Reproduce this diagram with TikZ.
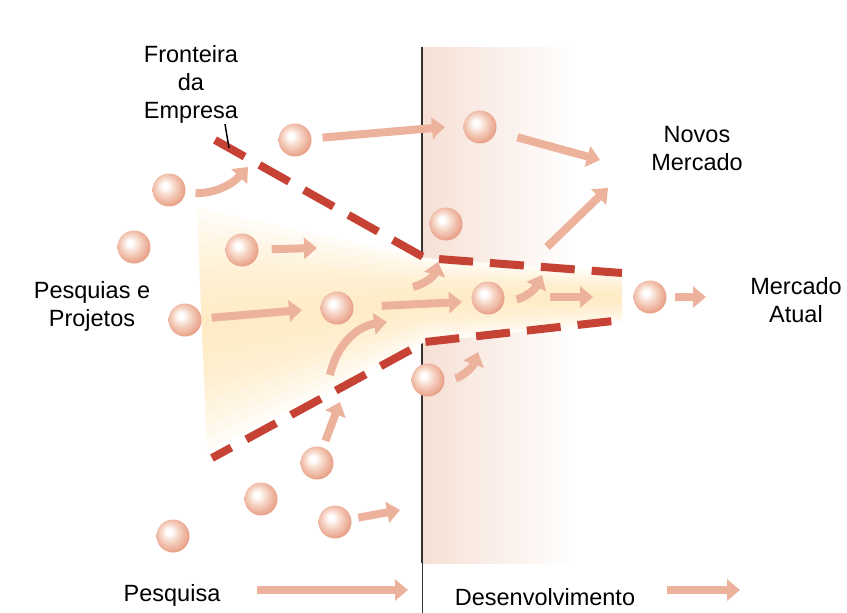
\documentclass[tikz,border=0pt]{standalone}
\usepackage{fontspec}
\setmainfont{Liberation Sans}
\usetikzlibrary{arrows.meta,calc}
\definecolor{flowPink}{RGB}{236,178,156}
\definecolor{fenceRed}{RGB}{198,66,52}
\definecolor{bandPink}{RGB}{246,224,213}
\definecolor{funnelYellow}{RGB}{255,232,180}
\definecolor{pearlMid}{RGB}{246,212,196}
\definecolor{pearlDeep}{RGB}{234,166,142}
\definecolor{pearlEdge}{RGB}{220,138,112}
\pgfdeclareradialshading{pearl}{\pgfqpoint{-7bp}{7bp}}{color(0bp)=(white); color(4bp)=(white); color(14bp)=(pearlMid); color(26bp)=(pearlDeep); color(33bp)=(pearlEdge); color(50bp)=(pearlEdge)}

\begin{document}
\begin{tikzpicture}[x=1pt,y=-1pt,
    pearlball/.style={circle,minimum size=33pt,inner sep=0pt,shade,shading=pearl},
    flow/.style={draw=flowPink,line width=8pt,-{Triangle[length=13pt,width=21pt]}},
    fence/.style={draw=fenceRed,line width=8pt,dash pattern=on 34pt off 17pt},
    lab/.style={font=\fontsize{23.5}{28}\selectfont,align=center,inner sep=0pt}]

  \useasboundingbox (0,0) rectangle (847,613);

  % development band and border line
  \fill[left color=bandPink,right color=white] (423,47) rectangle (575,563);
  \draw[line width=2pt,black!80] (422,47) -- (422,563);
  \draw[line width=1pt,black!80] (422,563) -- (422,613);

  % funnel
  \coordinate (LT) at (197,208); \coordinate (LB) at (207,450); \coordinate (LC) at (202,329);
  \coordinate (JT) at (425,258); \coordinate (JB) at (425,342); \coordinate (JC) at (425,300);
  \coordinate (RT) at (622,273); \coordinate (RB) at (622,322); \coordinate (RC) at (622,297);
  \fill[white] (LT) -- (JT) -- (RT) -- (RB) -- (JB) -- (LB) .. controls (188,370) and (188,280) .. cycle;
  \foreach \t in {1,0.9,0.8,0.7,0.6,0.5,0.4,0.3,0.2,0.1}
    \fill[funnelYellow,fill opacity=0.12] ($(LC)!\t!(LT)$) -- ($(JC)!\t!(JT)$) -- ($(RC)!\t!(RT)$)
      -- ($(RC)!\t!(RB)$) -- ($(JC)!\t!(JB)$) -- ($(LC)!\t!(LB)$) -- cycle;

  % company frontier
  \draw[fence] (215,140) -- (425,258) -- (622,273);
  \draw[fence,dash phase=12pt] (212,458) -- (425,342) -- (622,320);

  % projects
  \node[pearlball] (b1) at (295,140) {};
  \node[pearlball] (b2) at (169,190) {};
  \node[pearlball] (b3) at (134,247) {};
  \node[pearlball] (b4) at (242,250) {};
  \node[pearlball] (b5) at (185,320) {};
  \node[pearlball] (b6) at (337,308) {};
  \node[pearlball] (b7) at (446,224) {};
  \node[pearlball] (b8) at (480,127) {};
  \node[pearlball] (b9) at (488,298) {};
  \node[pearlball] (b10) at (650,297) {};
  \node[pearlball] (b11) at (428,380) {};
  \node[pearlball] (b12) at (317,463) {};
  \node[pearlball] (b13) at (261,499) {};
  \node[pearlball] (b14) at (335,522) {};
  \node[pearlball] (b15) at (173,536) {};

  % arrow ends
  \coordinate (e1) at (248,167);
  \coordinate (e2) at (445,127);
  \coordinate (e3) at (600,160);
  \coordinate (s4) at (547,247);  \coordinate (e4) at (608,188);
  \coordinate (e5) at (317,248);
  \coordinate (e6) at (302,310);
  \coordinate (e7) at (462,302);
  \coordinate (s8) at (413,287);  \coordinate (e8) at (438,262);
  \coordinate (e9) at (542,275);
  \coordinate (s10) at (550,297); \coordinate (e10) at (593,297);
  \coordinate (e11) at (706,297);
  \coordinate (e12) at (478,352);
  \coordinate (s13) at (330,375); \coordinate (e13) at (387,322);
  \coordinate (e14) at (340,402);
  \coordinate (e15) at (400,510);

  \draw[flow,shorten <=10pt] (b2) to[bend right=25] (e1);
  \draw[flow,shorten <=11pt] (b1) -- (e2);
  \draw[flow,shorten <=22pt] (b8) -- (e3);
  \draw[flow] (s4) -- (e4);
  \draw[flow,shorten <=13pt] (b4) -- (e5);
  \draw[flow,shorten <=10pt] (b5) -- (e6);
  \draw[flow,shorten <=28pt] (b6) -- (e7);
  \draw[flow] (s8) to[bend right=30] (e8);
  \draw[flow,shorten <=12pt] (b9) to[bend right=30] (e9);
  \draw[flow] (s10) -- (e10);
  \draw[flow,shorten <=8pt] (b10) -- (e11);
  \draw[flow,shorten <=11pt] (b11) to[bend right=30] (e12);
  \draw[flow] (s13) to[bend left=35] (e13);
  \draw[flow,shorten <=7pt] (b12) -- (e14);
  \draw[flow,shorten <=7pt] (b14) -- (e15);

  % labels
  \node[lab] (fronteira) at (191,84) {Fronteira\\da\\Empresa};
  \node[lab] (novos) at (697,149) {Novos\\Mercado};
  \node[lab] (atual) at (796,300) {Mercado\\Atual};
  \node[lab] (projetos) at (92,306) {Pesquias e\\Projetos};
  \node[lab] (pesquisa) at (172,595) {Pesquisa};
  \node[lab] (desenv) at (545,597) {Desenvolvimento};

  \coordinate (tip) at (229,148);
  \draw[line width=1.5pt] ([xshift=34pt,yshift=-1pt]fronteira.south) -- (tip);

  % phase arrows
  \coordinate (s16) at (257,590); \coordinate (e16) at (408,590);
  \coordinate (s17) at (667,590); \coordinate (e17) at (740,590);
  \draw[flow] (s16) -- (e16);
  \draw[flow] (s17) -- (e17);
\end{tikzpicture}
\end{document}
